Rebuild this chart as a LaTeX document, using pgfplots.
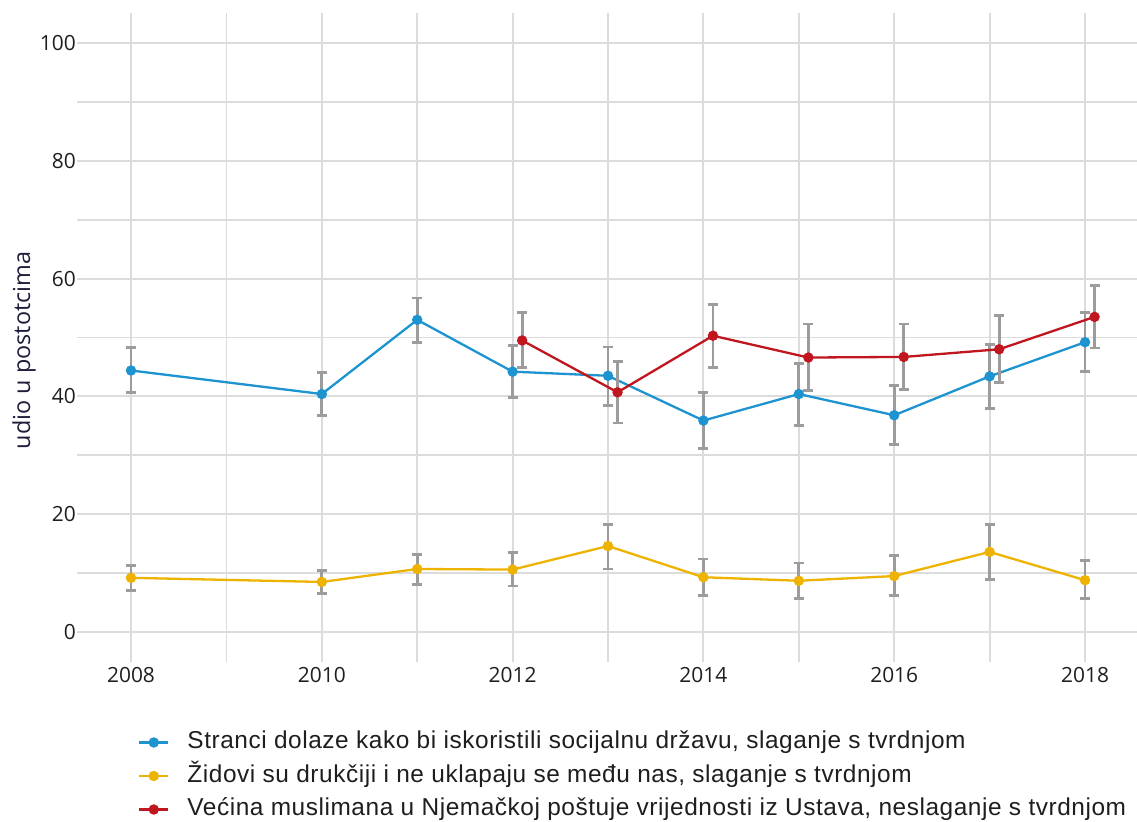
\documentclass[border=0pt]{standalone}
\usepackage{fontspec}
\setmainfont{Liberation Sans}
\newfontfamily\osans{Open Sans}
\newfontfamily\legfont[LetterSpace=2.3]{Liberation Sans}
\usepackage{pgfplots}
\usepackage{pgfplotstable}
\pgfplotsset{compat=1.18}
\definecolor{cblue}{HTML}{1D93CF}
\definecolor{cyellow}{HTML}{EDB300}
\definecolor{cred}{HTML}{C0161F}
\definecolor{gridgray}{HTML}{DCDCDC}
\definecolor{errgray}{HTML}{9C9C9C}
\definecolor{txt}{HTML}{1E1E1E}
\definecolor{ylab}{HTML}{1E1E3C}

\pgfplotstableread{
x y hi lo
2008 44.4 48.3 40.7
2010 40.4 44.0 36.8
2011 53.0 56.7 49.1
2012 44.2 48.6 39.8
2013 43.5 48.4 38.5
2014 35.9 40.7 31.2
2015 40.4 45.6 35.0
2016 36.8 41.8 31.8
2017 43.4 48.8 38.0
2018 49.2 54.2 44.2
}\blueT
\pgfplotstableread{
x y hi lo
2008 9.2 11.3 7.0
2010 8.5 10.5 6.5
2011 10.7 13.2 8.1
2012 10.6 13.5 7.8
2013 14.6 18.3 10.7
2014 9.3 12.4 6.2
2015 8.7 11.7 5.7
2016 9.5 13.0 6.2
2017 13.6 18.3 8.9
2018 8.8 12.2 5.7
}\yellowT
\pgfplotstableread{
x y hi lo
2012.1 49.5 54.2 44.9
2013.1 40.7 45.9 35.5
2014.1 50.3 55.6 44.9
2015.1 46.6 52.3 41.0
2016.1 46.7 52.3 41.2
2017.1 48.0 53.7 42.3
2018.1 53.5 58.8 48.2
}\redT

\begin{document}
\begin{tikzpicture}
\useasboundingbox (0,0) rectangle (1137bp,822bp);
\begin{axis}[
  at={(77bp,160bp)}, anchor=south west,
  scale only axis, width=1060bp, height=649bp,
  xmin=2007.434, xmax=2018.545,
  ymin=-5.09, ymax=105.09,
  axis line style={draw=none},
  major tick length=0pt, minor tick length=0pt,
  xtick={2008,2010,...,2018},
  minor xtick={2009,2011,...,2017},
  ytick={0,20,...,100},
  minor ytick={10,30,...,90},
  grid=both,
  major grid style={line width=2bp, color=gridgray},
  minor grid style={line width=1.8bp, color=gridgray},
  /pgf/number format/assume math mode=true,
  /pgf/number format/1000 sep={},
  ticklabel style={font=\osans\fontsize{21}{25}\selectfont, text=txt},
  yticklabel style={anchor=east, inner sep=0pt, xshift=-1bp},
  xticklabel style={anchor=north, inner sep=0pt, yshift=-5bp},
  ylabel={udio u postotcima},
  every axis y label/.style={at={(rel axis cs:0,0.48)}, xshift=-53bp, rotate=90, anchor=center,
    font=\osans\fontsize{23.5}{28}\selectfont, text=ylab},
  legend style={at={(0.0575,-0.106)}, anchor=north west, draw=none, fill=none, inner sep=0pt,
    font=\legfont\fontsize{24.5}{29}\selectfont, text=txt, cells={anchor=west},
    nodes={inner sep=0pt, text height=18bp, text depth=5bp}, row sep=10.5bp,
    /tikz/every odd column/.append style={column sep=18bp}},
  legend image code/.code={\draw[mark repeat=2,mark phase=2] plot coordinates {(0bp,0bp) (14.5bp,0bp) (29bp,0bp)};},
  every axis plot/.append style={line width=2.3bp, mark=*, mark size=4bp, mark options={solid}},
  error bars/error bar style={line width=2.8bp, color=errgray},
  error bars/error mark options={line width=2.8bp, color=errgray, mark size=5bp, rotate=90},
]
\addplot[color=cblue, mark options={fill=cblue, draw=cblue},
  error bars/.cd, y dir=both, y explicit]
  table[x=x, y=y, y error plus expr=\thisrow{hi}-\thisrow{y}, y error minus expr=\thisrow{y}-\thisrow{lo}] {\blueT};
\addlegendentry{Stranci dolaze kako bi iskoristili socijalnu državu, slaganje s tvrdnjom}
\addplot[color=cyellow, mark options={fill=cyellow, draw=cyellow},
  error bars/.cd, y dir=both, y explicit]
  table[x=x, y=y, y error plus expr=\thisrow{hi}-\thisrow{y}, y error minus expr=\thisrow{y}-\thisrow{lo}] {\yellowT};
\addlegendentry{Židovi su drukčiji i ne uklapaju se među nas, slaganje s tvrdnjom}
\addplot[color=cred, mark options={fill=cred, draw=cred},
  error bars/.cd, y dir=both, y explicit]
  table[x=x, y=y, y error plus expr=\thisrow{hi}-\thisrow{y}, y error minus expr=\thisrow{y}-\thisrow{lo}] {\redT};
\addlegendentry{Većina muslimana u Njemačkoj poštuje vrijednosti iz Ustava, neslaganje s tvrdnjom}
\end{axis}
\end{tikzpicture}
\end{document}
